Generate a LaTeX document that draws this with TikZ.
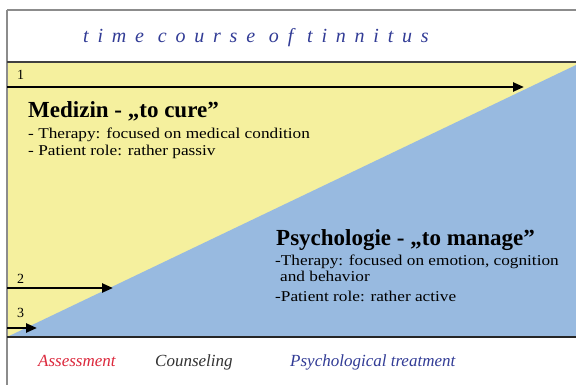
\documentclass[tikz,border=0pt]{standalone}
\usepackage{fontspec}
\setmainfont{Liberation Serif}
\usetikzlibrary{arrows.meta}
\definecolor{yel}{RGB}{245,240,158}
\definecolor{blu}{RGB}{152,186,224}
\definecolor{ttl}{RGB}{50,60,150}
\definecolor{redt}{RGB}{220,40,60}
\definecolor{frm}{RGB}{140,140,140}
\newfontfamily\stretchfont[FakeStretch=1.15]{Liberation Serif}
\tikzset{
  x=1pt,y=-1pt,
  timearrow/.style={-{Triangle[length=11pt,width=9pt]},line width=2.4pt,black},
  num/.style={anchor=base west,font=\fontsize{14}{14}\selectfont,inner sep=0pt},
  head/.style={anchor=base west,font=\fontsize{23}{23}\selectfont\bfseries,inner sep=0pt},
  item/.style={anchor=base west,font=\stretchfont\fontsize{15}{15}\selectfont,inner sep=0pt},
  bottom/.style={anchor=base west,font=\fontsize{17}{17}\selectfont\itshape,inner sep=0pt}
}
\begin{document}
\begin{tikzpicture}
\useasboundingbox (0,0) rectangle (576,385);
\fill[white] (0,0) rectangle (576,385);
% regions
\fill[yel] (7,62) rectangle (576,337);
\fill[blu] (7,337) -- (576,65) -- (576,337) -- cycle;
% frame lines
\draw[frm,line width=1.2pt] (7,10) -- (576,10);
\draw[frm,line width=1.2pt] (7,10) -- (7,385);
\draw[black!75,line width=1.4pt] (7,62) -- (576,62);
\draw[black!85,line width=1.6pt] (7,337) -- (576,337);
% title
\node[font=\fontsize{20}{20}\selectfont\itshape\addfontfeature{LetterSpace=44},text=ttl,anchor=base] (title) at (256,43) {time course of tinnitus};
% arrows
\coordinate (s1) at (7,87); \coordinate (e1) at (524,87);
\coordinate (s2) at (7,288); \coordinate (e2) at (113,288);
\coordinate (s3) at (7,328); \coordinate (e3) at (37,328);
\draw[timearrow] (s1) -- (e1);
\draw[timearrow] (s2) -- (e2);
\draw[timearrow] (s3) -- (e3);
\node[num] (n1) at (17,80) {1};
\node[num] (n2) at (17,283) {2};
\node[num] (n3) at (17,317) {3};
% medicine
\node[head] (med) at (28,118) {Medizin - „to cure"};
\node[item] (med1) at (28,139) {- Therapy: focused on medical condition};
\node[item] (med2) at (28,156) {- Patient role: rather passiv};
% psychology
\node[head] (psy) at (276,245) {Psychologie - „to manage"};
\node[item] (psy1) at (275,265) {-Therapy: focused on emotion, cognition};
\node[item] (psy2) at (280,281) {and behavior};
\node[item] (psy3) at (275,301) {-Patient role: rather active};
% bottom
\node[bottom,text=redt] (b1) at (38,366) {Assessment};
\node[bottom,text=black!80] (b2) at (155,366) {Counseling};
\node[bottom,text=ttl] (b3) at (290,366) {Psychological treatment};
\end{tikzpicture}
\end{document}
